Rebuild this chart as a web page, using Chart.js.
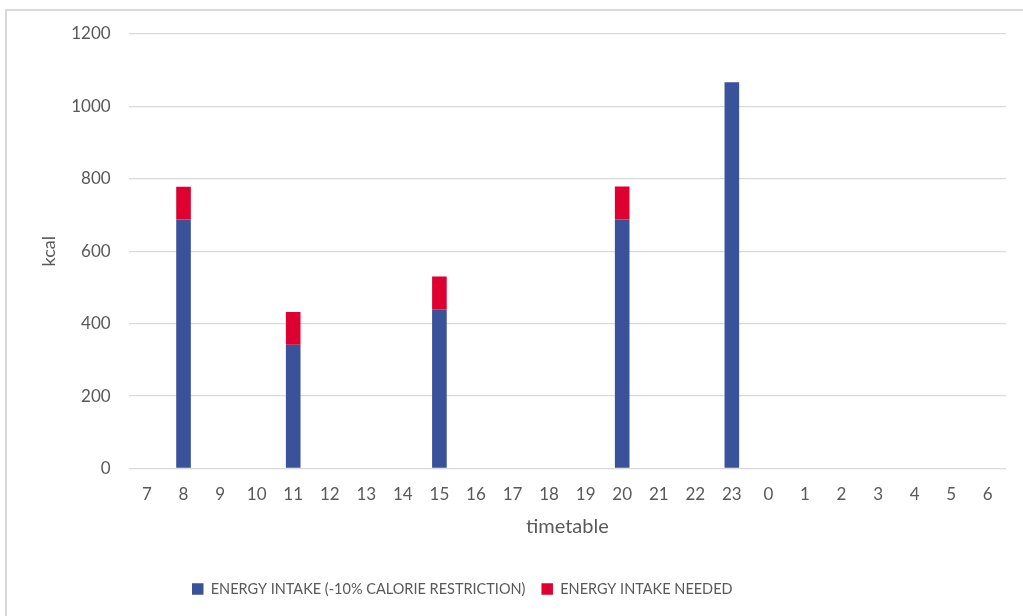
<!DOCTYPE html>
<html>
<head>
<meta charset="utf-8">
<script src="https://cdn.jsdelivr.net/npm/chart.js@4/dist/chart.umd.min.js"></script>
<style>
  html, body { margin: 0; padding: 0; background: #ffffff; overflow: hidden; }
  #frame { position: absolute; left: 5px; top: 9px; width: 1040px; height: 640px; border: 2px solid #d9d9d9; box-sizing: border-box; }
  #wrap { position: absolute; left: 0; top: 0; width: 1023px; height: 616px; }
</style>
</head>
<body>
<div id="frame"></div>
<div id="wrap"><canvas id="c" width="1023" height="616"></canvas></div>
<script>
const categories = ['7','8','9','10','11','12','13','14','15','16','17','18','19','20','21','22','23','0','1','2','3','4','5','6'];
const intakeRestricted = [0,688,0,0,342,0,0,0,440,0,0,0,0,688,0,0,1067,0,0,0,0,0,0,0];
const intakeNeeded     = [0,90,0,0,90,0,0,0,90,0,0,0,0,91,0,0,0,0,0,0,0,0,0,0];
const yTicks = [0,200,400,600,800,1000,1200];
const seriesNames = ['ENERGY INTAKE (-10% CALORIE RESTRICTION)', 'ENERGY INTAKE NEEDED'];

const FONT = 'Lato, "Open Sans", sans-serif';
const TEXT = '#595959';
const GRID = '#d9d9d9';

const legendPos = {
  id: 'legendPos',
  afterLayout(chart) {
    const lg = chart.legend;
    if (!lg) return;
    const pad = lg.options.labels.padding;
    const w = lg.right - lg.left;
    lg.left = 192 - pad;
    lg.right = lg.left + w;
    const ih = lg._itemHeight || lg.options.labels.font.size;
    lg.top = 589 - pad - ih / 2;
    lg.bottom = chart.height;
    lg.height = lg.bottom - lg.top;
  }
};

new Chart(document.getElementById('c'), {
  type: 'bar',
  data: {
    labels: categories,
    datasets: [
      { label: seriesNames[0], data: intakeRestricted, backgroundColor: '#39529a', borderWidth: 0 },
      { label: seriesNames[1], data: intakeNeeded, backgroundColor: '#dd0031', borderWidth: 0 }
    ]
  },
  options: {
    responsive: false,
    animation: false,
    devicePixelRatio: 1,
    layout: { padding: { left: 0, right: 17, top: 34, bottom: 0 } },
    datasets: { bar: { barPercentage: 0.4, categoryPercentage: 1.0 } },
    scales: {
      x: {
        stacked: true,
        grid: { display: false, drawTicks: false },
        border: { display: false },
        ticks: { color: TEXT, font: { family: FONT, size: 17 }, padding: 16, maxRotation: 0, autoSkip: false },
        title: { display: true, text: 'timetable', color: TEXT, font: { family: FONT, size: 20 }, padding: { top: 0, bottom: 37 } },
        afterFit(s) { s.height = 107.5; }
      },
      y: {
        stacked: true,
        min: 0, max: 1200,
        afterBuildTicks(s) { s.ticks = yTicks.map(v => ({ value: v })); },
        grid: { color: GRID, lineWidth: 1.3, drawTicks: false },
        border: { display: false },
        ticks: { color: TEXT, font: { family: FONT, size: 17 }, padding: 18, callback: v => String(v) },
        title: { display: true, text: 'kcal', color: TEXT, font: { family: FONT, size: 18 }, padding: { top: 38, bottom: 0 } },
        afterFit(s) { s.width = 128.7; }
      }
    },
    plugins: {
      legend: {
        position: 'bottom',
        align: 'start',
        maxHeight: 40,
        labels: { color: TEXT, font: { family: FONT, size: 14.5 }, boxWidth: 11.5, boxHeight: 11.5, padding: 16 }
      },
      tooltip: { enabled: false }
    }
  },
  plugins: [legendPos]
});
</script>
</body>
</html>
